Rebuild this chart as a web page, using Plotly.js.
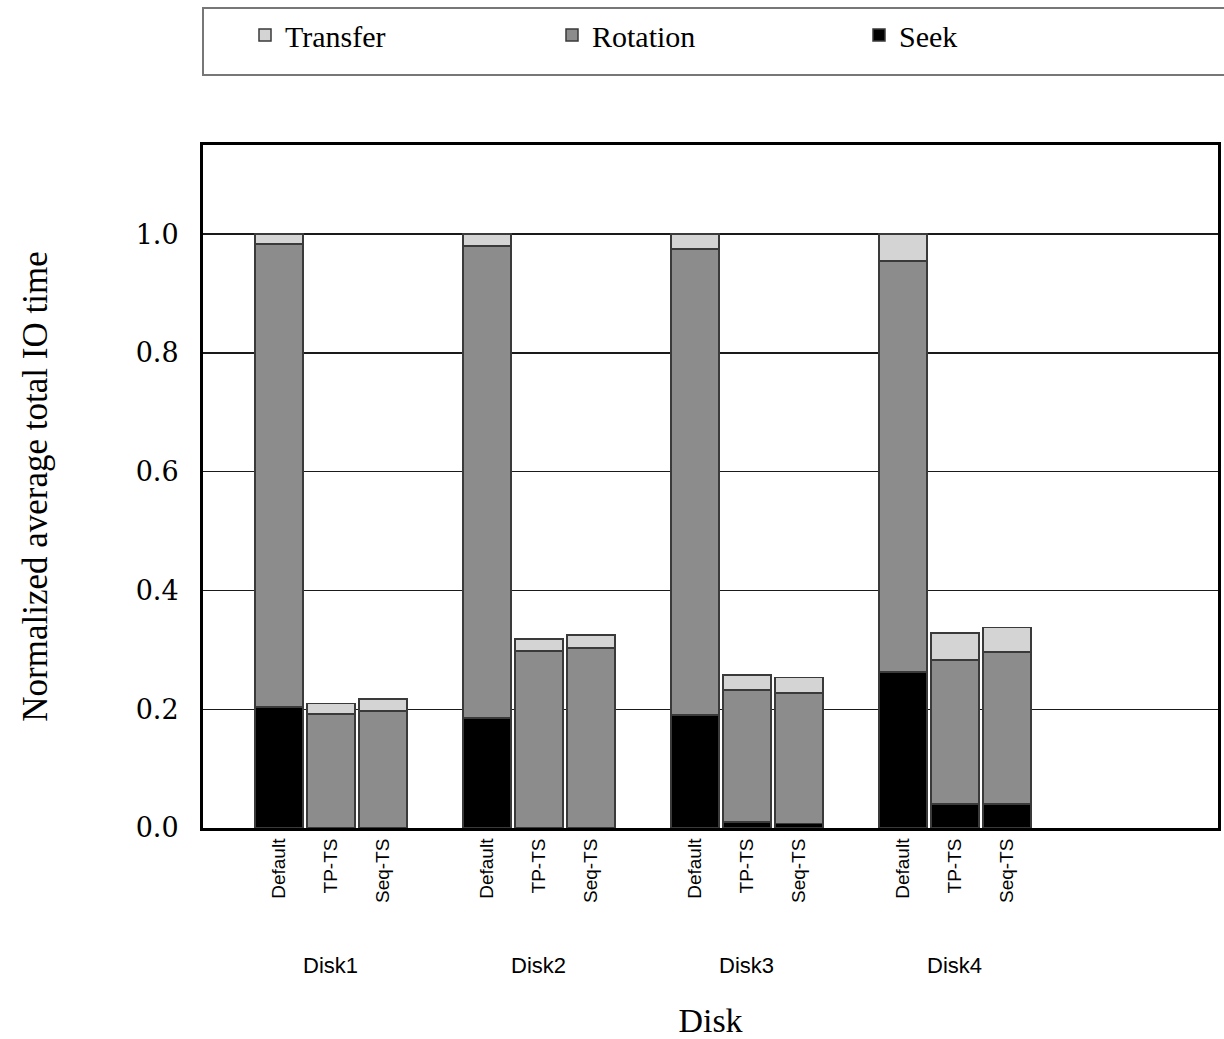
<!DOCTYPE html>
<html>
<head>
<meta charset="utf-8">
<script src="https://cdn.plot.ly/plotly-3.0.1.min.js"></script>
<style>html,body{margin:0;padding:0;background:#fff;}#chart{width:1224px;height:1039px;}</style>
</head>
<body>
<div id="chart"></div>
<script>
// ---- data ----
const disks = ["Disk1", "Disk2", "Disk3", "Disk4"];
const methods = ["Default", "TP-TS", "Seq-TS"];
// values listed per disk, in method order (Default, TP-TS, Seq-TS)
const seek = [
  0.204, 0.000, 0.000,
  0.185, 0.000, 0.000,
  0.190, 0.010, 0.008,
  0.263, 0.040, 0.040
];
const rotation = [
  0.779, 0.192, 0.197,
  0.795, 0.298, 0.303,
  0.785, 0.222, 0.219,
  0.692, 0.243, 0.256
];
const transfer = [
  0.017, 0.018, 0.020,
  0.020, 0.020, 0.022,
  0.025, 0.026, 0.026,
  0.045, 0.045, 0.042
];
const yTicks = [0, 0.2, 0.4, 0.6, 0.8, 1.0];

// ---- positions: each disk occupies 4 slots (3 bars + 1 gap) ----
const xPos = [];
const tickText = [];
disks.forEach((d, g) => methods.forEach((m, i) => { xPos.push(g * 4 + i); tickText.push(m); }));

const outline = {color: "#3a3a3a", width: 1.5};
const traces = [
  {type: "bar", name: "Seek", x: xPos, y: seek, marker: {color: "#000000", line: outline}, width: 0.92},
  {type: "bar", name: "Rotation", x: xPos, y: rotation, marker: {color: "#8c8c8c", line: outline}, width: 0.92},
  {type: "bar", name: "Transfer", x: xPos, y: transfer, marker: {color: "#d4d4d4", line: outline}, width: 0.92}
];

const serif = "Liberation Serif, Times New Roman, serif";
const annotations = disks.map((d, g) => ({
  text: d, x: g * 4 + 1, xref: "x", y: -0.201, yref: "paper",
  showarrow: false, yanchor: "middle", xanchor: "center",
  font: {family: "Liberation Sans, Arial, sans-serif", size: 22, color: "#000"}
}));

const layout = {
  width: 1224, height: 1039,
  margin: {l: 203, r: 6, t: 145, b: 211},
  paper_bgcolor: "#fff", plot_bgcolor: "#fff",
  barmode: "stack",
  showlegend: true,
  legend: {
    orientation: "h", traceorder: "reversed",
    xref: "container", yref: "container",
    x: 245 / 1224, xanchor: "left", y: 1 - 35 / 1039, yanchor: "middle",
    font: {family: serif, size: 30, color: "#000"},
    entrywidth: 262, entrywidthmode: "pixels",
    bgcolor: "rgba(0,0,0,0)", borderwidth: 0
  },
  xaxis: {
    range: [-1.46, 18.06],
    tickmode: "array", tickvals: xPos, ticktext: tickText,
    tickangle: -90, ticks: "", showgrid: false, zeroline: false,
    tickfont: {family: "Liberation Sans, Arial, sans-serif", size: 19, color: "#000"},
    showline: true, linecolor: "#000", linewidth: 3, mirror: true,
    title: {text: "Disk", standoff: 112, font: {family: serif, size: 34, color: "#000"}},
    automargin: false, fixedrange: true
  },
  yaxis: {
    range: [0, 1.15],
    tickmode: "array", tickvals: yTicks, tickformat: ".1f",
    ticks: "", ticklabelstandoff: 16,
    tickfont: {family: "DejaVu Serif, serif", size: 27, color: "#000"},
    showgrid: true, gridcolor: "#1a1a1a", gridwidth: 1.3, zeroline: false,
    showline: true, linecolor: "#000", linewidth: 3, mirror: true,
    title: {text: "Normalized average total IO time", standoff: 78, font: {family: serif, size: 35, color: "#000"}},
    automargin: false, fixedrange: true
  },
  annotations: annotations,
  shapes: [{
    type: "rect", xref: "paper", yref: "paper",
    x0: 0, x1: 1.05, y0: 1.1025, y1: 1.2006,
    line: {color: "#777", width: 2}, fillcolor: "rgba(0,0,0,0)"
  }]
};

Plotly.newPlot("chart", traces, layout, {displayModeBar: false, staticPlot: true});
</script>
</body>
</html>
